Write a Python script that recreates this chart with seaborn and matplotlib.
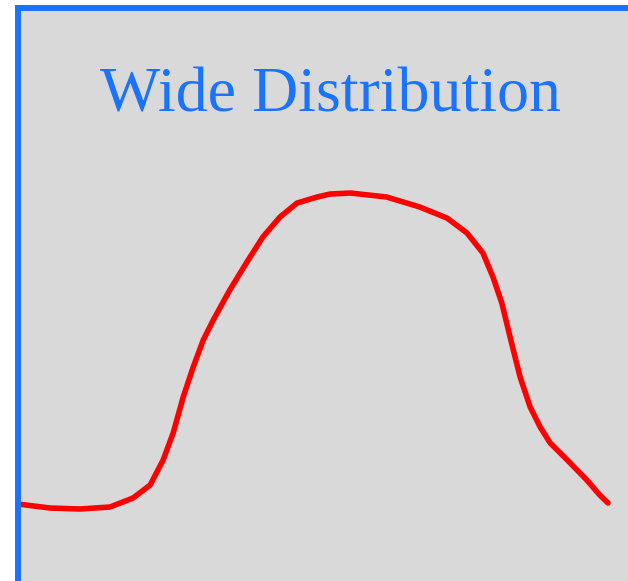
import seaborn as sns
import matplotlib.pyplot as plt
import pandas as pd

# curve values (x, density)
x_vals = [0.00, 0.54, 1.05, 1.56, 1.95, 2.24, 2.46, 2.63, 2.80, 2.97,
          3.14, 3.31, 3.59, 3.88, 4.15, 4.44, 4.73, 5.07, 5.29, 5.63,
          6.25, 6.81, 7.27, 7.61, 7.88, 8.05, 8.20, 8.34, 8.51, 8.68,
          8.85, 9.02, 9.31, 9.64, 9.86, 10.00]
y_vals = [0.036, 0.032, 0.031, 0.033, 0.042, 0.055, 0.080, 0.107, 0.143, 0.173,
          0.200, 0.220, 0.250, 0.278, 0.303, 0.323, 0.337, 0.343, 0.346, 0.347,
          0.343, 0.333, 0.322, 0.307, 0.287, 0.263, 0.237, 0.203, 0.163, 0.133,
          0.113, 0.097, 0.080, 0.060, 0.045, 0.037]

df = pd.DataFrame({"x": x_vals, "density": y_vals})

sns.set_style("white", {"axes.facecolor": "#d9d9d9"})

fig = plt.figure(figsize=(6.28, 5.81), dpi=100)
ax = fig.add_axes([0.02866, -0.0327, 1.0032, 1.0189])

sns.lineplot(data=df, x="x", y="density", color="#ff0000", linewidth=4,
             solid_joinstyle="round", ax=ax)

ax.set_xlim(0, 10.678)
ax.set_ylim(-0.06, 0.532)
ax.set_xticks([])
ax.set_yticks([])
ax.set_xlabel("")
ax.set_ylabel("")

for side in ["left", "top"]:
    ax.spines[side].set_color("#1a73ff")
    ax.spines[side].set_linewidth(4.3)
for side in ["right", "bottom"]:
    ax.spines[side].set_visible(False)

fig.text(330 / 628, 1 - 112 / 581, "Wide Distribution", ha="center", va="baseline",
         color="#1a73ff", fontsize=46, family=["Liberation Serif", "DejaVu Serif"])

fig.savefig("out.png", dpi=100)
